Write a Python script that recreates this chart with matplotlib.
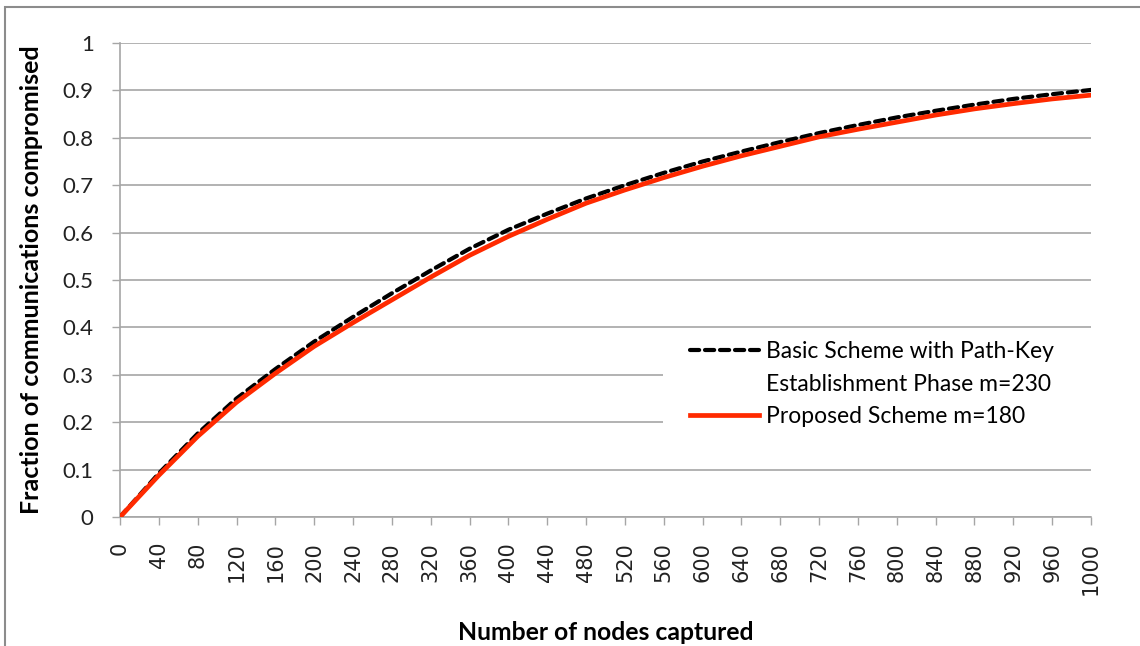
import numpy as np
import matplotlib
matplotlib.use("Agg")
import matplotlib.pyplot as plt
from matplotlib.lines import Line2D
from matplotlib.patches import Rectangle

# nodes captured (category axis, every 40)
nodes = list(range(0, 1001, 40))

# Basic Scheme with Path-Key Establishment Phase m=230
basic = [0.000, 0.092, 0.176, 0.250, 0.312, 0.370, 0.422, 0.472, 0.520,
         0.566, 0.606, 0.640, 0.672, 0.700, 0.726, 0.750, 0.771, 0.791,
         0.810, 0.827, 0.843, 0.857, 0.870, 0.882, 0.892, 0.901]

# Proposed Scheme m=180
proposed = [0.000, 0.088, 0.170, 0.242, 0.303, 0.360, 0.410, 0.458, 0.506,
            0.552, 0.592, 0.628, 0.662, 0.690, 0.716, 0.740, 0.762, 0.782,
            0.802, 0.818, 0.833, 0.848, 0.861, 0.872, 0.882, 0.890]

y_ticks = [0, 0.1, 0.2, 0.3, 0.4, 0.5, 0.6, 0.7, 0.8, 0.9, 1]
y_tick_labels = ["0", "0.1", "0.2", "0.3", "0.4", "0.5", "0.6", "0.7", "0.8", "0.9", "1"]

label_basic = "Basic Scheme with Path-Key"
label_basic2 = "Establishment Phase m=230"
label_prop = "Proposed Scheme m=180"

grid_col = "#a6a6a6"
red = "#ff2a00"
dash = (2.2, 1.4)

fig = plt.figure(figsize=(11.4, 6.46), dpi=100)
ax = fig.add_axes([120 / 1140, 1 - 517 / 646, (1091 - 120) / 1140, (517 - 43) / 646])

ax.plot(nodes, basic, color="black", lw=3.0, dashes=dash,
        dash_capstyle="round", zorder=3)
ax.plot(nodes, proposed, color=red, lw=3.4, zorder=4)

ax.set_xlim(0, 1000)
ax.set_ylim(0, 1)
ax.set_xticks(nodes)
ax.set_xticklabels([str(n) for n in nodes], rotation=90, fontsize=15,
                   color="#222222")
ax.set_yticks(y_ticks)
ax.set_yticklabels(y_tick_labels, fontsize=16, color="#222222", family="Lato")
ax.tick_params(axis="both", direction="out", length=6, width=1,
               color=grid_col)
ax.tick_params(axis="x", pad=12)
ax.tick_params(axis="y", pad=13)
ax.grid(axis="y", color=grid_col, lw=1.2)
ax.set_axisbelow(True)
for side in ["top", "right"]:
    ax.spines[side].set_visible(False)
for side in ["left", "bottom"]:
    ax.spines[side].set_color(grid_col)
    ax.spines[side].set_linewidth(1.2)

ax.set_xlabel("Number of nodes captured", fontsize=17.8, fontweight="bold",
              family="Lato", labelpad=19)
ax.set_ylabel("Fraction of communications compromised", fontsize=18,
              fontweight="bold", family="Lato", labelpad=14)

# white legend area (hides the grid behind it, up to the right edge)
ax.add_patch(Rectangle((0.559, 0.165), 0.46, 0.222, transform=ax.transAxes,
                       facecolor="white", edgecolor="none", zorder=2,
                       clip_on=False))

handles = [
    Line2D([], [], color="black", lw=3.0, dashes=dash, dash_capstyle="round"),
    Line2D([], [], color="none"),
    Line2D([], [], color=red, lw=3.4),
]
leg = ax.legend(handles, [label_basic, label_basic2, label_prop],
                loc="upper left", bbox_to_anchor=(0.578, 0.39),
                frameon=False, prop={"family": "Lato", "size": 16.5},
                handlelength=3.0, handletextpad=0.3, labelspacing=0.5,
                borderaxespad=0)
leg.set_zorder(5)

# outer chart border
fig.patches.append(Rectangle((5 / 1140, -0.1), 1.2, 1.1 - 7 / 646,
                             transform=fig.transFigure, fill=False,
                             edgecolor="#8c8c8c", lw=1.5))

fig.savefig("out.png", dpi=100)
